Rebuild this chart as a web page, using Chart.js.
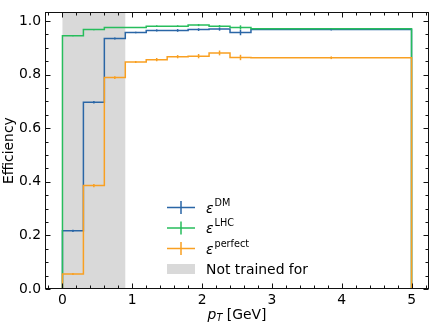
<!DOCTYPE html>
<html><head><meta charset="utf-8">
<script src="https://cdn.jsdelivr.net/npm/chart.js@4"></script>
<style>html,body{margin:0;padding:0;background:#fff}canvas{display:block}</style>
</head><body>
<canvas id="c" width="433" height="327"></canvas>
<script>
// ---- data ----
const binEdges = [0, 0.3, 0.6, 0.9, 1.2, 1.5, 1.8, 2.1, 2.4, 2.7, 5.0];
const effDM      = [0.217, 0.697, 0.935, 0.957, 0.965, 0.965, 0.968, 0.970, 0.957, 0.968];
const effLHC     = [0.945, 0.968, 0.976, 0.976, 0.981, 0.981, 0.985, 0.981, 0.976, 0.971];
const effPerfect = [0.056, 0.386, 0.789, 0.847, 0.856, 0.867, 0.869, 0.881, 0.864, 0.863];
const errDM      = [0.004, 0.005, 0.004, 0.003, 0.004, 0.005, 0.005, 0.006, 0.010, 0.003];
const errLHC     = [0.002, 0.002, 0.002, 0.002, 0.003, 0.003, 0.004, 0.004, 0.008, 0.002];
const errPerfect = [0.004, 0.006, 0.005, 0.004, 0.006, 0.006, 0.008, 0.009, 0.010, 0.005];
const notTrainedRange = [0, 0.9];
const xTicks = [0, 1, 2, 3, 4, 5];
const yTicks = [0.0, 0.2, 0.4, 0.6, 0.8, 1.0];
const xMinorStep = 0.2;
const yMinorStep = 0.05;
const seriesNames = ['DM', 'LHC', 'perfect'];
const legendSymbol = 'ε';
const shadedLabel = 'Not trained for';
const xTitle = ['p', 'T', ' [GeV]'];
const yTitle = 'Efficiency';

const colors = {DM: '#2a66a6', LHC: '#27bd5c', perfect: '#f9a022'};

function stepPoints(vals) {
  const pts = [{x: binEdges[0], y: 0}];
  for (let i = 0; i < vals.length; i++) pts.push({x: binEdges[i], y: vals[i]});
  const last = binEdges[binEdges.length - 1];
  pts.push({x: last, y: vals[vals.length - 1]});
  pts.push({x: last, y: 0});
  return pts;
}

const series = [
  {name: 'DM', vals: effDM, err: errDM, order: 3},
  {name: 'LHC', vals: effLHC, err: errLHC, order: 2},
  {name: 'perfect', vals: effPerfect, err: errPerfect, order: 1},
];

const FONT = "'DejaVu Sans', sans-serif";
const FS = 13.9;

const decor = {
  id: 'decor',
  beforeDatasetsDraw(chart) {
    const ctx = chart.ctx, xs = chart.scales.x, a = chart.chartArea;
    ctx.save();
    ctx.fillStyle = '#d9d9d9';
    const x0 = xs.getPixelForValue(notTrainedRange[0]);
    const x1 = xs.getPixelForValue(notTrainedRange[1]);
    ctx.fillRect(x0, a.top, x1 - x0, a.bottom - a.top);
    ctx.restore();
  },
  afterDatasetsDraw(chart) {
    const ctx = chart.ctx, xs = chart.scales.x, ys = chart.scales.y;
    ctx.save();
    ctx.lineWidth = 1.5;
    series.slice().sort((p, q) => q.order - p.order).forEach(s => {
      ctx.strokeStyle = colors[s.name];
      for (let i = 0; i < s.vals.length; i++) {
        const cx = xs.getPixelForValue((binEdges[i] + binEdges[i + 1]) / 2);
        const y0 = ys.getPixelForValue(s.vals[i] - s.err[i]);
        const y1 = ys.getPixelForValue(s.vals[i] + s.err[i]);
        ctx.beginPath();
        ctx.moveTo(cx, y0); ctx.lineTo(cx, y1); ctx.stroke();
      }
    });
    ctx.restore();
  },
  afterDraw(chart) {
    const ctx = chart.ctx, xs = chart.scales.x, ys = chart.scales.y, a = chart.chartArea;
    ctx.save();
    // frame
    ctx.strokeStyle = '#111';
    ctx.lineWidth = 1;
    const L = Math.round(a.left) + 0.5, R = Math.round(a.right) - 0.5;
    const T = Math.round(a.top) + 0.5, B = Math.round(a.bottom) - 0.5;
    ctx.strokeRect(L, T, R - L, B - T);
    // ticks
    ctx.beginPath();
    const isMajor = (v, arr) => arr.some(t => Math.abs(t - v) < 1e-6);
    for (let k = Math.ceil(xs.min / xMinorStep); k * xMinorStep <= xs.max + 1e-9; k++) {
      const v = k * xMinorStep;
      const len = isMajor(v, xTicks) ? 5 : 3;
      const px = Math.round(xs.getPixelForValue(v)) + 0.5;
      ctx.moveTo(px, B); ctx.lineTo(px, B - len);
      ctx.moveTo(px, T); ctx.lineTo(px, T + len);
    }
    for (let k = Math.ceil(ys.min / yMinorStep); k * yMinorStep <= ys.max + 1e-9; k++) {
      const v = k * yMinorStep;
      const len = isMajor(v, yTicks) ? 5 : 3;
      const py = Math.round(ys.getPixelForValue(v)) + 0.5;
      ctx.moveTo(L, py); ctx.lineTo(L + len, py);
      ctx.moveTo(R, py); ctx.lineTo(R - len, py);
    }
    ctx.stroke();

    // axis titles
    ctx.fillStyle = '#000';
    ctx.textBaseline = 'alphabetic';
    ctx.font = `${FS}px ${FONT}`;
    ctx.save();
    ctx.translate(12.7, (a.top + a.bottom) / 2);
    ctx.rotate(-Math.PI / 2);
    ctx.textAlign = 'center';
    ctx.fillText(yTitle, 0, 0);
    ctx.restore();

    ctx.textAlign = 'left';
    const fP = `italic ${FS}px ${FONT}`, fT = `italic 9.7px ${FONT}`, fR = `${FS}px ${FONT}`;
    ctx.font = fP; const wP = ctx.measureText(xTitle[0]).width;
    ctx.font = fT; const wT = ctx.measureText(xTitle[1]).width;
    ctx.font = fR; const wR = ctx.measureText(xTitle[2]).width;
    const total = wP + wT + wR;
    let tx = (a.left + a.right) / 2 - total / 2;
    const base = 319;
    ctx.font = fP; ctx.fillText(xTitle[0], tx, base); tx += wP;
    ctx.font = fT; ctx.fillText(xTitle[1], tx, base + 2); tx += wT;
    ctx.font = fR; ctx.fillText(xTitle[2], tx, base);

    // legend
    const hx0 = 167, hx1 = 195, hcx = 181, labX = 206;
    const rows = [207.5, 228, 248.5, 269];
    series.forEach((s, i) => {
      const y = rows[i];
      ctx.strokeStyle = colors[s.name];
      ctx.lineWidth = 1.5;
      ctx.beginPath();
      ctx.moveTo(hx0, y); ctx.lineTo(hx1, y);
      ctx.moveTo(hcx, y - 6.5); ctx.lineTo(hcx, y + 6.5);
      ctx.stroke();
      ctx.fillStyle = '#000';
      ctx.font = `italic ${FS}px ${FONT}`;
      ctx.fillText(legendSymbol, labX, y + 5);
      const we = ctx.measureText(legendSymbol).width;
      ctx.font = `9.7px ${FONT}`;
      ctx.fillText(seriesNames[i], labX + we + 1, y - 2);
    });
    ctx.fillStyle = '#d9d9d9';
    ctx.fillRect(hx0, rows[3] - 5, hx1 - hx0, 10);
    ctx.fillStyle = '#000';
    ctx.font = `${FS}px ${FONT}`;
    ctx.fillText(shadedLabel, labX, rows[3] + 5);
    ctx.restore();
  }
};

new Chart(document.getElementById('c'), {
  type: 'line',
  data: {
    datasets: series.map(s => ({
      label: s.name,
      data: stepPoints(s.vals),
      borderColor: colors[s.name],
      borderWidth: 1.5,
      stepped: 'before',
      pointRadius: 0,
      fill: false,
      order: s.order,
    }))
  },
  options: {
    responsive: false,
    animation: false,
    devicePixelRatio: 1,
    layout: {padding: {top: 3, right: 4, left: 0, bottom: 0}},
    plugins: {legend: {display: false}, tooltip: {enabled: false}},
    scales: {
      x: {
        type: 'linear', min: -0.25, max: 5.25,
        grid: {display: false, drawTicks: false},
        border: {display: false},
        afterBuildTicks: s => { s.ticks = xTicks.map(v => ({value: v})); },
        afterFit: s => { s.height = 38; },
        ticks: {padding: 3, color: '#000', font: {family: FONT, size: FS}, callback: v => String(v), maxRotation: 0},
      },
      y: {
        type: 'linear', min: 0, max: 1.0325,
        grid: {display: false, drawTicks: false},
        border: {display: false},
        afterBuildTicks: s => { s.ticks = yTicks.map(v => ({value: v})); },
        afterFit: s => { s.width = 45; },
        ticks: {padding: 4, color: '#000', font: {family: FONT, size: FS}, callback: v => Number(v).toFixed(1)},
      }
    }
  },
  plugins: [decor]
});
</script>
</body></html>
